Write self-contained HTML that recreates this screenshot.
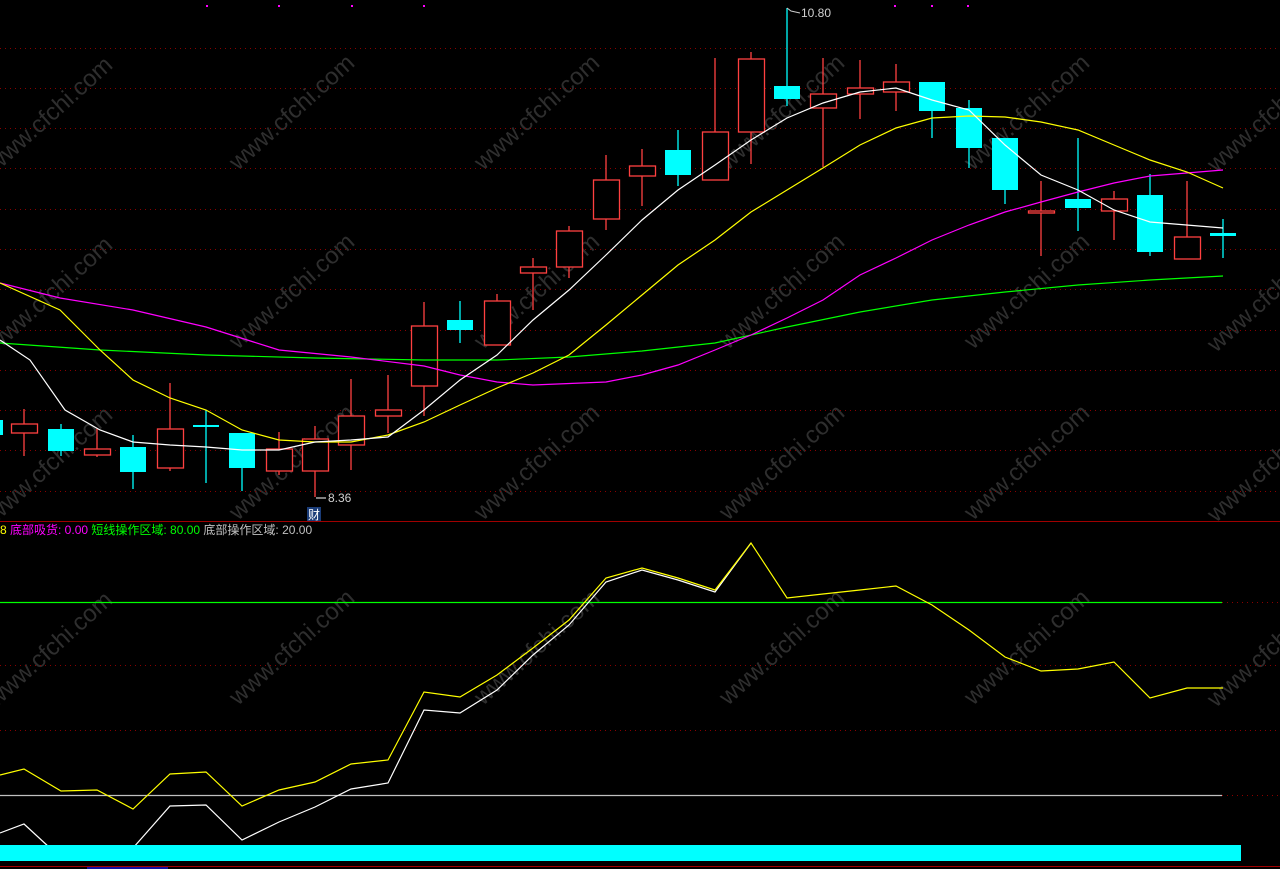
<!DOCTYPE html>
<html><head><meta charset="utf-8"><style>
html,body{margin:0;padding:0;background:#000;}
svg{display:block}
text{font-family:"Liberation Sans","Noto Sans CJK SC",sans-serif;}
</style></head><body>
<svg width="1280" height="869" viewBox="0 0 1280 869" xmlns="http://www.w3.org/2000/svg">
<rect width="1280" height="869" fill="#000"/>
<!-- watermarks -->
<g fill="#2e2e2e" font-size="24" font-family="Liberation Sans,sans-serif">
<text transform="translate(55,120) rotate(-42)" text-anchor="middle">www.cfchi.com</text>
<text transform="translate(297,118) rotate(-42)" text-anchor="middle">www.cfchi.com</text>
<text transform="translate(542,118) rotate(-42)" text-anchor="middle">www.cfchi.com</text>
<text transform="translate(787,118) rotate(-42)" text-anchor="middle">www.cfchi.com</text>
<text transform="translate(1032,118) rotate(-42)" text-anchor="middle">www.cfchi.com</text>
<text transform="translate(1275,120) rotate(-42)" text-anchor="middle">www.cfchi.com</text>
<text transform="translate(55,300) rotate(-42)" text-anchor="middle">www.cfchi.com</text>
<text transform="translate(297,297) rotate(-42)" text-anchor="middle">www.cfchi.com</text>
<text transform="translate(542,297) rotate(-42)" text-anchor="middle">www.cfchi.com</text>
<text transform="translate(787,297) rotate(-42)" text-anchor="middle">www.cfchi.com</text>
<text transform="translate(1032,297) rotate(-42)" text-anchor="middle">www.cfchi.com</text>
<text transform="translate(1275,300) rotate(-42)" text-anchor="middle">www.cfchi.com</text>
<text transform="translate(55,470) rotate(-42)" text-anchor="middle">www.cfchi.com</text>
<text transform="translate(297,468) rotate(-42)" text-anchor="middle">www.cfchi.com</text>
<text transform="translate(542,468) rotate(-42)" text-anchor="middle">www.cfchi.com</text>
<text transform="translate(787,468) rotate(-42)" text-anchor="middle">www.cfchi.com</text>
<text transform="translate(1032,468) rotate(-42)" text-anchor="middle">www.cfchi.com</text>
<text transform="translate(1275,470) rotate(-42)" text-anchor="middle">www.cfchi.com</text>
<text transform="translate(55,655) rotate(-42)" text-anchor="middle">www.cfchi.com</text>
<text transform="translate(297,653) rotate(-42)" text-anchor="middle">www.cfchi.com</text>
<text transform="translate(542,653) rotate(-42)" text-anchor="middle">www.cfchi.com</text>
<text transform="translate(787,653) rotate(-42)" text-anchor="middle">www.cfchi.com</text>
<text transform="translate(1032,653) rotate(-42)" text-anchor="middle">www.cfchi.com</text>
<text transform="translate(1275,655) rotate(-42)" text-anchor="middle">www.cfchi.com</text>
</g>
<!-- grid -->
<g stroke="#8a0000" stroke-width="1" stroke-dasharray="1,4">
<line x1="0" y1="48.5" x2="1280" y2="48.5"/><line x1="0" y1="88.5" x2="1280" y2="88.5"/>
<line x1="0" y1="128.5" x2="1280" y2="128.5"/><line x1="0" y1="168.5" x2="1280" y2="168.5"/>
<line x1="0" y1="209.5" x2="1280" y2="209.5"/><line x1="0" y1="249.5" x2="1280" y2="249.5"/>
<line x1="0" y1="289.5" x2="1280" y2="289.5"/><line x1="0" y1="330.5" x2="1280" y2="330.5"/>
<line x1="0" y1="370.5" x2="1280" y2="370.5"/><line x1="0" y1="410.5" x2="1280" y2="410.5"/>
<line x1="0" y1="450.5" x2="1280" y2="450.5"/><line x1="0" y1="491.5" x2="1280" y2="491.5"/>
<line x1="0" y1="665.5" x2="1280" y2="665.5"/><line x1="0" y1="730.5" x2="1280" y2="730.5"/>
<line x1="1222" y1="602.5" x2="1280" y2="602.5"/><line x1="1222" y1="795.5" x2="1280" y2="795.5"/>
</g>
<g fill="#ff00ff"><rect x="206" y="5" width="2" height="2"/><rect x="278" y="5" width="2" height="2"/><rect x="351" y="5" width="2" height="2"/><rect x="423" y="5" width="2" height="2"/><rect x="894" y="5" width="2" height="2"/><rect x="931" y="5" width="2" height="2"/><rect x="967" y="5" width="2" height="2"/></g>
<!-- candles -->
<g stroke-width="1.3">
<g stroke="#ff4040" fill="#000">
<line x1="24" y1="409" x2="24" y2="456"/><rect x="11.5" y="424" width="26" height="9"/>
<line x1="97" y1="428" x2="97" y2="457"/><rect x="84.5" y="449" width="26" height="6"/>
<line x1="170" y1="383" x2="170" y2="471"/><rect x="157.5" y="429" width="26" height="39"/>
<line x1="279" y1="432" x2="279" y2="475"/><rect x="266.5" y="449" width="26" height="22"/>
<line x1="315" y1="426" x2="315" y2="497"/><rect x="302.5" y="439" width="26" height="32"/>
<line x1="351" y1="379" x2="351" y2="470"/><rect x="338.5" y="416" width="26" height="29"/>
<line x1="388" y1="375" x2="388" y2="433"/><rect x="375.5" y="410" width="26" height="6"/>
<line x1="424" y1="302" x2="424" y2="416"/><rect x="411.5" y="326" width="26" height="60"/>
<line x1="497" y1="294" x2="497" y2="345"/><rect x="484.5" y="301" width="26" height="44"/>
<line x1="533" y1="258" x2="533" y2="310"/><rect x="520.5" y="267" width="26" height="6"/>
<line x1="569" y1="226" x2="569" y2="278"/><rect x="556.5" y="231" width="26" height="36"/>
<line x1="606" y1="155" x2="606" y2="230"/><rect x="593.5" y="180" width="26" height="39"/>
<line x1="642" y1="149" x2="642" y2="206"/><rect x="629.5" y="166" width="26" height="10"/>
<line x1="715" y1="58" x2="715" y2="180"/><rect x="702.5" y="132" width="26" height="48"/>
<line x1="751" y1="52" x2="751" y2="164"/><rect x="738.5" y="59" width="26" height="73"/>
<line x1="823" y1="58" x2="823" y2="167"/><rect x="810.5" y="94" width="26" height="14"/>
<line x1="860" y1="60" x2="860" y2="119"/><rect x="847.5" y="88" width="26" height="6"/>
<line x1="896" y1="64" x2="896" y2="111"/><rect x="883.5" y="82" width="26" height="10"/>
<line x1="1041" y1="181" x2="1041" y2="256"/><rect x="1028.5" y="211" width="26" height="2"/>
<line x1="1114" y1="191" x2="1114" y2="240"/><rect x="1101.5" y="199" width="26" height="12"/>
<line x1="1187" y1="181" x2="1187" y2="259"/><rect x="1174.5" y="237" width="26" height="22"/>
</g>
<g stroke="#00ffff" fill="#00ffff">
<rect x="-3" y="420" width="6" height="15" stroke="none"/>
<line x1="61" y1="424" x2="61" y2="456"/><rect x="48" y="429" width="26" height="22" stroke="none"/>
<line x1="133" y1="435" x2="133" y2="489"/><rect x="120" y="447" width="26" height="25" stroke="none"/>
<line x1="206" y1="410" x2="206" y2="483"/><rect x="193" y="425" width="26" height="2" stroke="none"/>
<line x1="242" y1="433" x2="242" y2="491"/><rect x="229" y="433" width="26" height="35" stroke="none"/>
<line x1="460" y1="301" x2="460" y2="343"/><rect x="447" y="320" width="26" height="10" stroke="none"/>
<line x1="678" y1="130" x2="678" y2="186"/><rect x="665" y="150" width="26" height="25" stroke="none"/>
<line x1="787" y1="8" x2="787" y2="106"/><rect x="774" y="86" width="26" height="13" stroke="none"/>
<line x1="932" y1="82" x2="932" y2="138"/><rect x="919" y="82" width="26" height="29" stroke="none"/>
<line x1="969" y1="100" x2="969" y2="168"/><rect x="956" y="108" width="26" height="40" stroke="none"/>
<line x1="1005" y1="138" x2="1005" y2="204"/><rect x="992" y="138" width="26" height="52" stroke="none"/>
<line x1="1078" y1="138" x2="1078" y2="231"/><rect x="1065" y="199" width="26" height="9" stroke="none"/>
<line x1="1150" y1="174" x2="1150" y2="256"/><rect x="1137" y="195" width="26" height="57" stroke="none"/>
<line x1="1223" y1="219" x2="1223" y2="258"/><rect x="1210" y="233" width="26" height="3" stroke="none"/>
</g>
</g>
<!-- MAs -->
<g fill="none" stroke-width="1.2">
<polyline stroke="#00ff00" points="0,343 100,350 206,355 315,358 424,360 497,360 569,357 642,351 715,343 787,327 860,312 932,300 1005,292 1078,285 1150,280 1223,276"/>
<polyline stroke="#ff00ff" points="0,283 60,298 133,310 206,327 279,350 351,357 424,366 460,375 497,382 533,385 606,382 642,375 678,365 715,350 751,335 787,318 823,300 860,275 896,258 932,240 969,225 1005,212 1041,202 1078,192 1114,183 1150,176 1223,170"/>
<polyline stroke="#ffff00" points="0,283 60,310 100,350 133,380 170,398 206,410 242,430 279,440 315,442 351,442 388,435 424,422 460,405 497,388 533,373 569,355 606,325 642,295 678,265 715,240 751,212 787,190 823,168 860,145 896,128 932,118 969,116 1005,117 1041,122 1078,130 1114,145 1150,160 1187,172 1223,188"/>
<polyline stroke="#ffffff" points="0,340 30,360 65,410 100,430 133,442 170,445 206,447 242,450 279,450 315,442 351,440 388,437 424,410 460,380 497,355 533,320 569,290 606,255 642,220 678,190 715,165 751,140 787,118 823,103 860,92 896,88 932,100 969,110 1005,145 1041,175 1078,190 1114,210 1150,222 1223,228"/>
</g>
<!-- labels -->
<polyline points="787,8 791,11 800,13" fill="none" stroke="#ccc" stroke-width="1"/>
<text x="801" y="17" font-size="12" fill="#d0d0d0">10.80</text>
<line x1="316" y1="498" x2="326" y2="498" stroke="#fff" stroke-width="1"/>
<text x="328" y="502" font-size="12" fill="#d0d0d0">8.36</text>
<rect x="307" y="507" width="14" height="14" fill="#1a3c78"/>
<text x="308" y="519" font-size="12" fill="#fff">财</text>
<line x1="0" y1="521.5" x2="1280" y2="521.5" stroke="#a00000" stroke-width="1"/>
<text x="0" y="534" font-size="12"><tspan fill="#ffff00">8 </tspan><tspan fill="#ff00ff">底部吸货: 0.00 </tspan><tspan fill="#00ff00"> 短线操作区域: 80.00 </tspan><tspan fill="#c0c0c0"> 底部操作区域: 20.00</tspan></text>
<!-- lower panel -->
<line x1="0" y1="602.5" x2="1222" y2="602.5" stroke="#00ff00" stroke-width="1.2"/>
<line x1="0" y1="795.5" x2="1222" y2="795.5" stroke="#c0c0c0" stroke-width="1.2"/>
<polyline fill="none" stroke="#ffffff" stroke-width="1.2" points="0,833 24,824 50,848 133,848 170,806 206,805 242,840 279,822 315,807 351,789 388,783 424,710 460,713 497,690 533,655 569,625 606,582 642,570 678,580 715,592 751,543"/>
<polyline fill="none" stroke="#ffff00" stroke-width="1.2" points="0,775 24,769 61,791 97,790 133,809 170,774 206,772 242,806 279,790 315,782 351,764 388,760 424,692 460,697 497,675 533,648 569,620 606,578 642,568 678,578 715,590 751,543 787,598 823,594 860,590 896,586 932,605 969,630 1005,657 1041,671 1078,669 1114,662 1150,698 1187,688 1223,688"/>
<rect x="0" y="845" width="1241" height="16" fill="#00ffff"/>
<line x1="0" y1="866.5" x2="1280" y2="866.5" stroke="#a00000" stroke-width="1"/>
<rect x="87" y="867" width="81" height="2" fill="#1010a0"/>
</svg>
</body></html>
